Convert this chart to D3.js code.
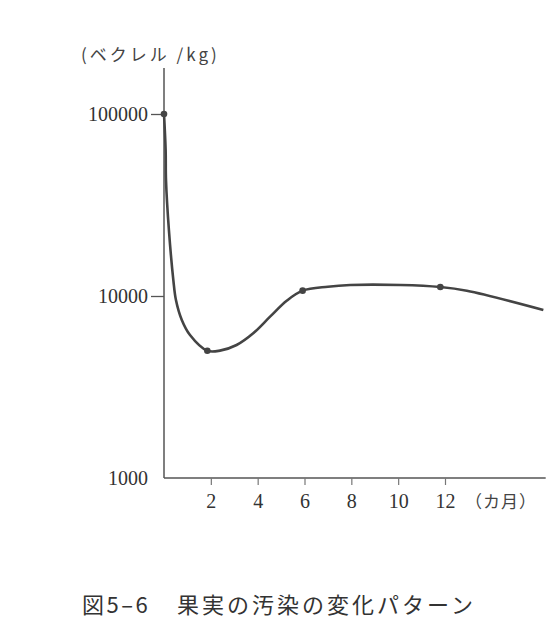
<!DOCTYPE html>
<html>
<head>
<meta charset="utf-8">
<script src="https://cdn.jsdelivr.net/npm/d3@7"></script>
<style>
  body { margin: 0; background: #fff; }
  .tick text { font-family: "Liberation Serif", "DejaVu Serif", serif; fill: #333; }
</style>
</head>
<body>
<script>
// values (month, becquerel/kg)
const curveMonths = [0, 0.07, 0.085, 0.21, 0.4, 0.51, 0.76, 1.11, 1.85, 2.39, 3.1, 3.81, 4.53, 5.24, 5.92, 7.0, 7.95, 10.1, 11.8, 12.93, 16.2]
const curveValues = [100000, 63400, 43400, 23000, 12200, 9500, 7380, 6100, 5000, 5010, 5380, 6240, 7700, 9420, 10700, 11250, 11490, 11490, 11200, 10690, 8380]
const dotMonths = [0, 1.85, 5.92, 11.8]
const dotValues = [100000, 5000, 10700, 11200]
const xTicks = [2, 4, 6, 8, 10, 12]
const yTicks = [1000, 10000, 100000]

const w = 560
const h = 628

const svg = d3.select('body')
  .append('svg')
  .attr('width', w)
  .attr('height', h)

const x = d3.scaleLinear().domain([0, 12]).range([164, 445])
const y = d3.scaleLog().domain([1000, 100000]).range([478, 114])

// axes lines
svg.append('line')
  .attr('x1', x(0)).attr('x2', x(0))
  .attr('y1', 68).attr('y2', y(1000))
  .attr('stroke', '#555').attr('stroke-width', 1.5)

svg.append('line')
  .attr('x1', x(0)).attr('x2', x(16.3))
  .attr('y1', y(1000)).attr('y2', y(1000))
  .attr('stroke', '#555').attr('stroke-width', 1.5)

const yAxis = svg.append('g')
  .attr('transform', `translate(${x(0)},0)`)
  .call(d3.axisLeft(y).tickValues(yTicks).tickFormat(d3.format('d')).tickSize(13).tickPadding(3))
yAxis.select('.domain').remove()
yAxis.selectAll('.tick line').attr('stroke', '#555').attr('stroke-width', 1.3)
  .filter(d => d === 1000).remove()
yAxis.selectAll('.tick text').attr('font-size', 20).attr('dy', '0.34em')

const xAxis = svg.append('g')
  .attr('transform', `translate(0,${y(1000)})`)
  .call(d3.axisBottom(x).tickValues(xTicks).tickSize(7).tickPadding(9))
xAxis.select('.domain').remove()
xAxis.selectAll('.tick line').attr('stroke', '#777').attr('stroke-width', 1.2)
xAxis.selectAll('.tick text').attr('font-size', 20)

svg.append('text')
  .attr('x', 465)
  .attr('y', 508)
  .attr('font-family', '"Noto Sans CJK JP"')
  .attr('font-size', 17)
  .attr('letter-spacing', 1)
  .attr('fill', '#444')
  .text('（カ月）')

svg.append('text')
  .attr('x', 81)
  .attr('y', 61)
  .attr('font-family', '"Noto Sans CJK JP"')
  .attr('font-size', 17)
  .attr('letter-spacing', 3)
  .attr('fill', '#444')
  .text('(ベクレル /kg)')

// curve
const pts = curveMonths.map((m, i) => [m, curveValues[i]])
const line = d3.line()
  .x(d => x(d[0]))
  .y(d => y(d[1]))
  .curve(d3.curveCatmullRom.alpha(0.5))

svg.append('path')
  .datum(pts)
  .attr('d', line)
  .attr('fill', 'none')
  .attr('stroke', '#444')
  .attr('stroke-width', 2.6)

svg.selectAll('circle')
  .data(dotMonths)
  .enter()
  .append('circle')
  .attr('cx', d => x(d))
  .attr('cy', (d, i) => y(dotValues[i]))
  .attr('r', 3.3)
  .attr('fill', '#444')

// caption
svg.append('text')
  .attr('x', 82)
  .attr('y', 613)
  .attr('font-family', '"Noto Sans CJK JP"')
  .attr('font-size', 22)
  .attr('letter-spacing', 2.5)
  .attr('fill', '#333')
  .text('図5–6')

svg.append('text')
  .attr('x', 177)
  .attr('y', 613)
  .attr('font-family', '"Noto Sans CJK JP"')
  .attr('font-size', 22)
  .attr('letter-spacing', 3)
  .attr('fill', '#333')
  .text('果実の汚染の変化パターン')
</script>
</body>
</html>
